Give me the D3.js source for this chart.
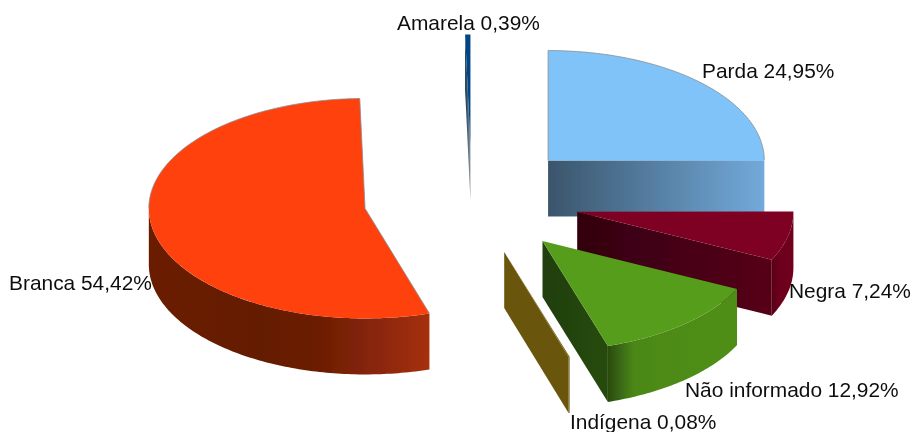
<!DOCTYPE html>
<html lang="pt">
    <head>
        <meta charset="utf-8">
        <title>Cor ou raca</title>
        <script type="text/javascript" src="https://cdn.jsdelivr.net/npm/d3@7/dist/d3.min.js"></script>
        <style>
          html,body{margin:0;padding:0;background:#fff;}
          text{font-family:"Liberation Sans",Arial,sans-serif;font-size:20.9px;fill:#111;}
        </style>
    </head>
    <body>
      <div id="chart"></div>

        <script type="text/javascript">
          // clockwise from 12 o'clock
          var categories = ["Parda","Negra","Não informado","Indígena","Branca","Amarela"]
          var values = [24.95,7.24,12.92,0.08,54.42,0.39]

          // styles, same order as categories
          var topColors = ["#7fc3f9","#7e0021","#579d1c","#7a6210","#ff420e","#004586"]
          var radialWallStops = [["#3b556b","#72aadb"],["#330010","#560018"],["#223f0c","#264a0e"],["#6b5510","#6b5510"],["#641a04","#641a04"],["#0a2c4c","#8f98a0"]]
          var outerWallStops = [
            ["#000","#000"],
            ["#560018","#6d001c","#6d001c","#700020"],
            ["#2a4b0f","#4b8719","#4d8a19","#4e8c19","#4f8e19","#4f8e19"],
            ["#6b5510","#6b5510"],
            ["#6a1b05","#671a04","#641a04","#6c1d05","#872608","#a53009"],
            ["#000","#000"]]
          var outlined = ["Parda","Branca"]
          var labelX = [702,789,685,570,9,397]
          var labelY = [78,298,397,429,290,30]

          var width = 912, height = 432
          var explode = 0.5, depth = 56

          // unit circle -> screen, flattened pie
          var x = d3.scaleLinear().domain([-1,1]).range([255.5,688])
          var y = d3.scaleLinear().domain([-1,1]).range([89.5,309.5])

          var svg = d3.select("#chart").append("svg").attr("width",width).attr("height",height)
          var defs = svg.append("defs")
          defs.append("filter").attr("id","soft")
            .attr("filterUnits","userSpaceOnUse")
            .attr("x",0).attr("y",0).attr("width",width).attr("height",height)
            .append("feGaussianBlur").attr("stdDeviation",0.4)
          var root = svg.append("g").attr("filter","url(#soft)")
          var line = d3.line().x(function(d){return d[0]}).y(function(d){return d[1]})

          var pie = d3.pie().sort(null)
          var arcs = pie(values).map(function(d,i){
            var mid = (d.startAngle+d.endAngle)/2
            return {
              i:i,
              a0:d.startAngle,
              a1:d.endAngle,
              ox:explode*Math.sin(mid),
              oy:-explode*Math.cos(mid)
            }
          })

          function pt(d,r,a,dz){
            return [x(d.ox+r*Math.sin(a)),y(d.oy-r*Math.cos(a))+(dz||0)]
          }

          function arcPoints(d,a0,a1,dz){
            var n = Math.max(2,Math.ceil((a1-a0)*60))
            return d3.range(n+1).map(function(k){
              return pt(d,1,a0+(a1-a0)*k/n,dz)
            })
          }

          function gradient(id,stops,x1,x2){
            var g = defs.append("linearGradient").attr("id",id)
              .attr("gradientUnits","userSpaceOnUse")
              .attr("x1",x1).attr("x2",x2).attr("y1",0).attr("y2",0)
            stops.forEach(function(c,k){
              g.append("stop").attr("offset",k/(stops.length-1)).attr("stop-color",c)
            })
            return "url(#"+id+")"
          }

          // back to front
          var order = arcs.slice().sort(function(a,b){return pt(a,0,0)[1]-pt(b,0,0)[1]})

          order.forEach(function(d){
            var g = root.append("g").attr("class","slice")

            // cut face, only the side turned to the viewer
            var edge = null
            if(Math.sin(d.a1)>0.01) edge = d.a1
            else if(Math.sin(d.a0)<-0.01) edge = d.a0
            if(edge!==null){
              var p0 = pt(d,0,edge), p1 = pt(d,1,edge)
              g.append("path")
                .attr("d",line([p0,p1,pt(d,1,edge,depth),pt(d,0,edge,depth)])+"Z")
                .attr("fill",gradient("r"+d.i,radialWallStops[d.i],Math.min(p0[0],p1[0]),Math.max(p0[0],p1[0])+0.01))
            }

            // rim, front half only
            var a0 = Math.max(d.a0,Math.PI/2), a1 = Math.min(d.a1,Math.PI*3/2)
            if(a1>a0){
              var front = arcPoints(d,a0,a1,0)
              var back = arcPoints(d,a0,a1,depth).reverse()
              var ext = d3.extent(front,function(p){return p[0]})
              g.append("path")
                .attr("d",line(front.concat(back))+"Z")
                .attr("fill",gradient("o"+d.i,outerWallStops[d.i],ext[0],ext[1]+0.01))
            }

            // top face
            var face = [pt(d,0,0)].concat(arcPoints(d,d.a0,d.a1,0))
            g.append("path")
              .attr("d",line(face)+"Z")
              .attr("fill",topColors[d.i])

            // grey edge on the silhouette, not where a wall hangs below
            if(outlined.indexOf(categories[d.i])>=0){
              var parts = []
              var backStart = Math.max(d.a0,Math.PI*3/2)
              if(d.a1>backStart) parts.push(arcPoints(d,backStart,d.a1,0))
              var backEnd = Math.min(d.a1,Math.PI/2)
              if(backEnd>d.a0) parts.push(arcPoints(d,d.a0,backEnd,0))
              if(edge!==d.a0) parts.push([pt(d,0,0),pt(d,1,d.a0)])
              if(edge!==d.a1) parts.push([pt(d,0,0),pt(d,1,d.a1)])
              g.selectAll("path.edge")
                .data(parts)
                .enter()
                .append("path")
                .attr("class","edge")
                .attr("d",function(p){return line(p)})
                .attr("fill","none")
                .attr("stroke","#8a8f94")
                .attr("stroke-opacity",0.8)
                .attr("stroke-width",1)
            }
          })

          root.selectAll("text.label")
            .data(categories)
            .enter()
            .append("text")
            .attr("class","label")
            .attr("x",function(d,i){return labelX[i]})
            .attr("y",function(d,i){return labelY[i]})
            .text(function(d,i){return d+" "+d3.format(".2f")(values[i]).replace(".",",")+"%"})
        </script>
    </body>
</html>
